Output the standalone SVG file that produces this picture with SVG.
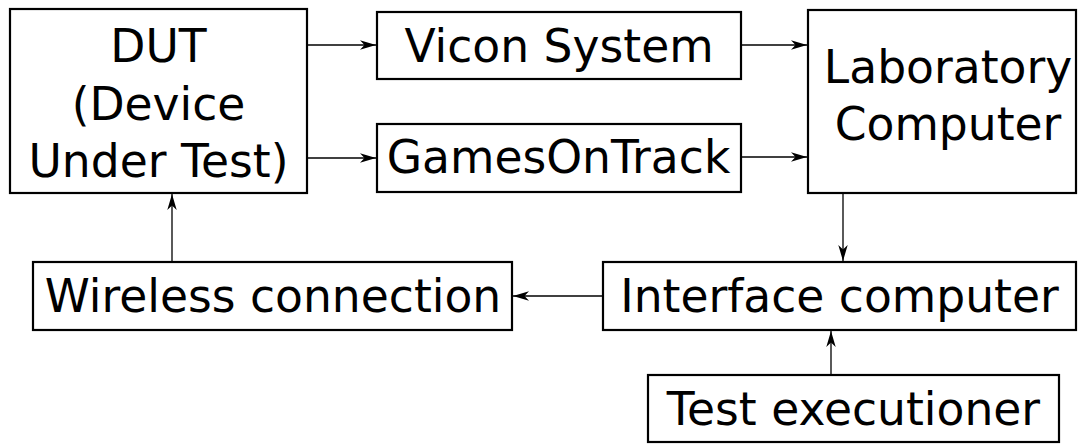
<svg xmlns="http://www.w3.org/2000/svg" width="1086" height="445" viewBox="0 0 1086 445">
<style>
.box{fill:#fff;stroke:#000;stroke-width:2.2}
.t{font-family:"DejaVu Sans",sans-serif;font-size:45.6px;fill:#000;text-anchor:middle}
.c{stroke:#000;stroke-width:1.3;fill:none;marker-end:url(#ah)}
</style>
<defs>
<marker id="ah" markerWidth="17" markerHeight="11" refX="16" refY="5.5" orient="auto" markerUnits="userSpaceOnUse">
<path d="M0,0.8 L16,5.5 L0,10.2 L4.5,5.5 Z" fill="#000"/>
</marker>
</defs>
<rect width="1086" height="445" fill="#fff"/>
<g id="dut"><rect class="box" x="10" y="9" width="297" height="184"/>
<text class="t" x="158.5" y="62">DUT</text><text class="t" x="158.5" y="120">(Device</text><text class="t" x="158.5" y="177">Under Test)</text></g>
<g id="vicon"><rect class="box" x="377" y="12" width="364" height="67"/><text class="t" x="559" y="62">Vicon System</text></g>
<g id="got"><rect class="box" x="377" y="124" width="364" height="68"/><text class="t" x="558.5" y="173">GamesOnTrack</text></g>
<g id="lab"><rect class="box" x="808" y="10" width="268" height="183"/>
<text class="t" x="948" y="83">Laboratory</text><text class="t" x="948" y="140">Computer</text></g>
<g id="wireless"><rect class="box" x="33" y="262" width="479" height="68"/><text class="t" x="273" y="312">Wireless connection</text></g>
<g id="interface"><rect class="box" x="603" y="262" width="473" height="68"/><text class="t" x="839.5" y="312">Interface computer</text></g>
<g id="test"><rect class="box" x="648" y="375" width="411" height="67"/><text class="t" x="853.5" y="425">Test executioner</text></g>
<g id="connectors">
<path class="c" d="M307,45 H376"/>
<path class="c" d="M307,158 H376"/>
<path class="c" d="M741,45 H807"/>
<path class="c" d="M741,157 H807"/>
<path class="c" d="M843,193 V261"/>
<path class="c" d="M603,296 H513"/>
<path class="c" d="M831,375 V331"/>
<path class="c" d="M172,262 V194"/>
</g>
</svg>
